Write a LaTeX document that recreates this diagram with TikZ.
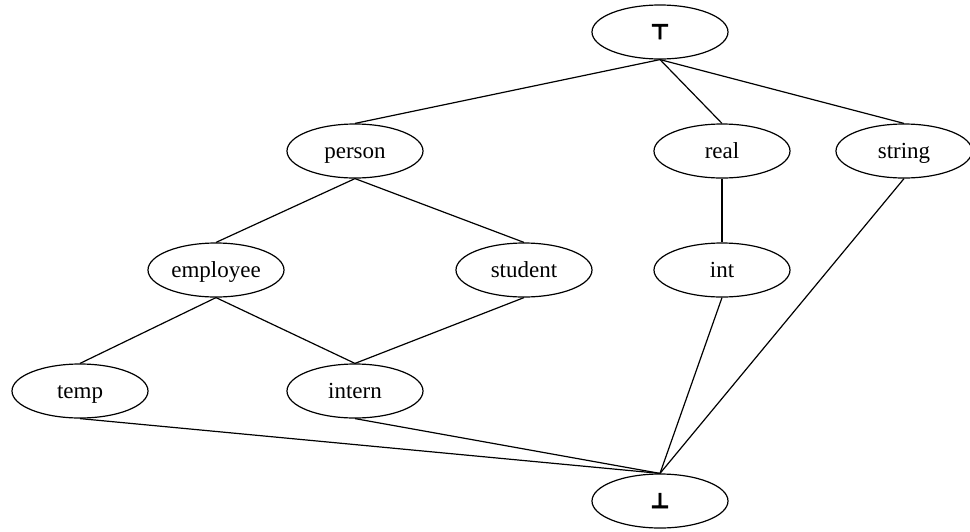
\documentclass[tikz,border=0pt]{standalone}
\usepackage{fontspec}
\setmainfont{Liberation Serif}
\newfontfamily\symfont[FakeBold=3]{DejaVu Sans Bold}
\usetikzlibrary{shapes.geometric}

\begin{document}
\begin{tikzpicture}
  [x=1pt,y=-1pt,line width=1.2pt,every node/.style={ellipse,draw,inner sep=0pt,
   minimum width=136pt,minimum height=54pt,text height=16pt,text depth=2pt,
   font=\fontsize{23}{27}\selectfont}]
  \useasboundingbox (0,0) rectangle (970,531);
  \node (top) at (660,32) {\symfont\fontsize{21}{25}\selectfont ⊤};
  \node (person) at (355,151) {person};
  \node (real) at (722,151) {real};
  \node (string) at (904,151) {string};
  \node (employee) at (216,270) {employee};
  \node (student) at (524,270) {student};
  \node (int) at (722,270) {int};
  \node (temp) at (80,391) {temp};
  \node (intern) at (355,391) {intern};
  \node (bot) at (660,501) {\symfont\fontsize{21}{25}\selectfont ⊥};

  \foreach \from/\to in {top/person,top/real,top/string,person/employee,
      person/student,real/int,employee/temp,employee/intern,student/intern,
      temp/bot,intern/bot,int/bot,string/bot}
    \draw (\from.south) -- (\to.north);

\end{tikzpicture}
\end{document}
